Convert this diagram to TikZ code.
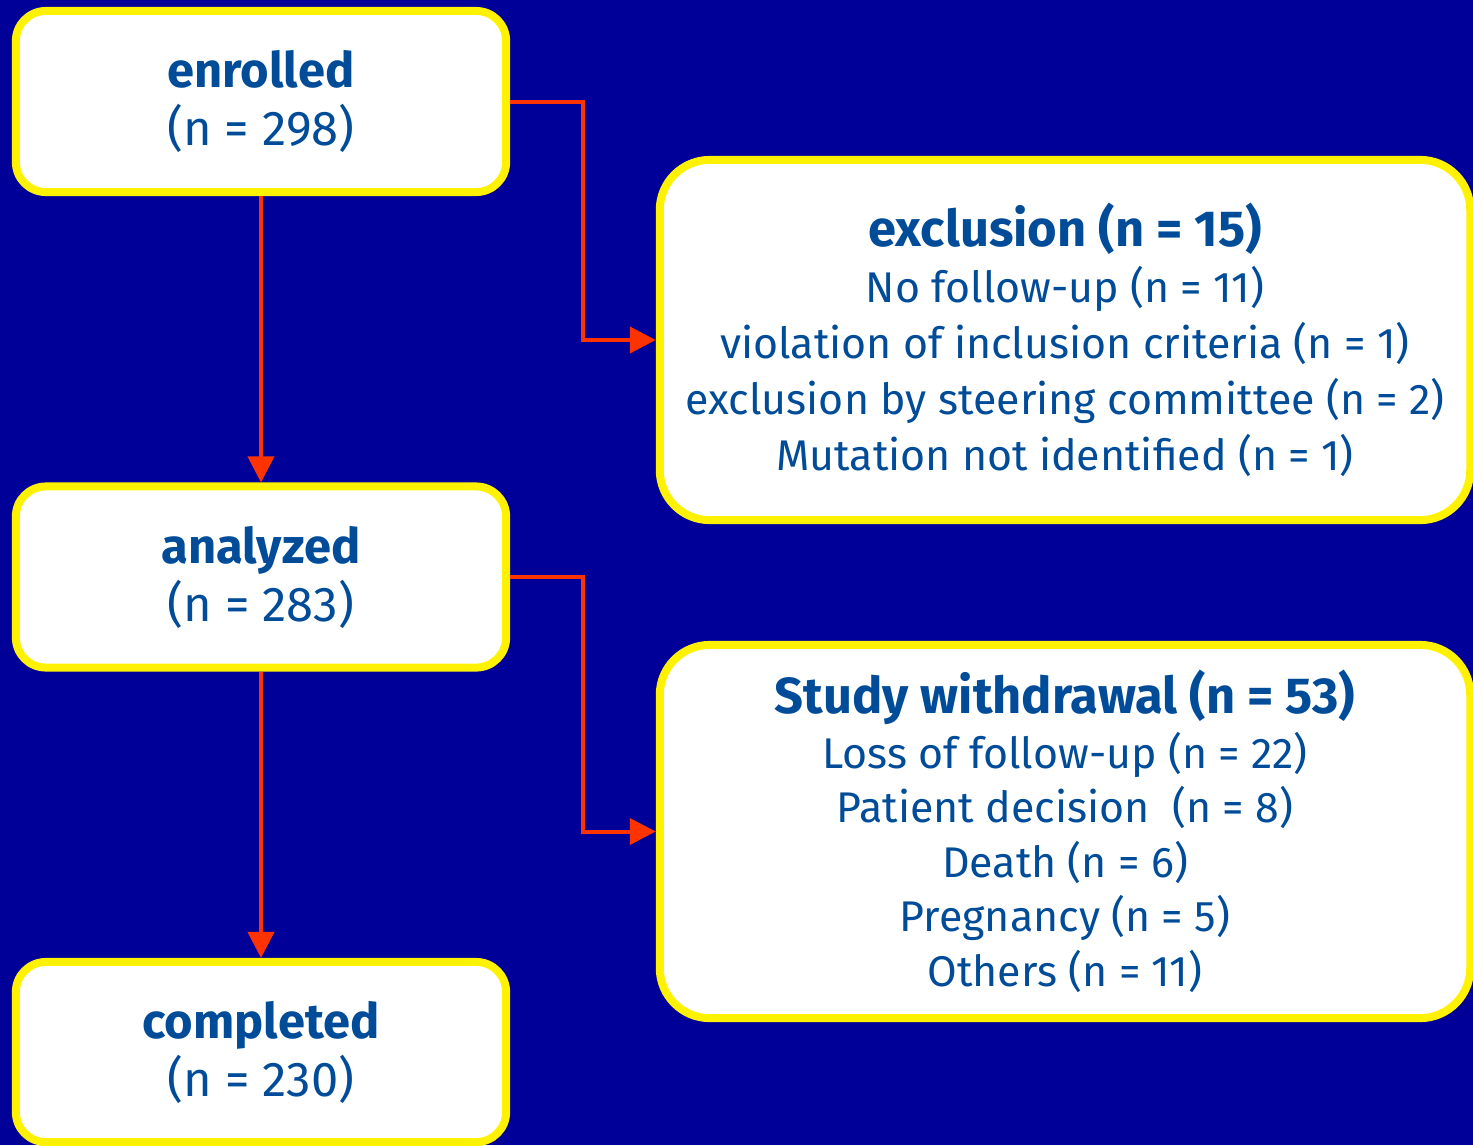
\documentclass[tikz,border=0pt]{standalone}
\usepackage{fontspec}
\setmainfont{Fira Sans}
\usetikzlibrary{arrows.meta,calc}

\definecolor{bgblue}{RGB}{0,0,153}
\definecolor{textblue}{RGB}{0,76,153}
\definecolor{arrowred}{RGB}{255,51,0}

\newcommand{\boxtitle}[1]{{\fontsize{14.4}{15.9}\selectfont\bfseries #1}}

\tikzset{
  box/.style={draw=yellow, fill=white, line width=0.08cm, rounded corners=0.3cm,
    align=center, text=textblue, font=\fontsize{13.9}{16.5}\selectfont,
    minimum width=4.9cm, minimum height=1.81cm},
  bigbox/.style={box, rounded corners=0.5cm, minimum width=8.1cm,
    font=\fontsize{12.2}{15.9}\selectfont},
  flow/.style={draw=arrowred, line width=0.04cm, -{Triangle[length=0.26cm,width=0.26cm]}}
}

\begin{document}
\begin{tikzpicture}[x=0.01cm,y=-0.01cm]

\fill[bgblue] (0,0) rectangle (1473,1145);
\useasboundingbox (0,0) rectangle (1473,1145);

% left column
\node[box] (enrolled) at (261,101.5) {\textbf{enrolled}\\(n = 298)};
\node[box] (analyzed) at (261,577) {\textbf{analyzed}\\(n = 283)};
\node[box, minimum height=1.8cm] (completed) at (261,1052) {\textbf{completed}\\(n = 230)};

% right column
\node[bigbox, minimum height=3.6cm] (exclusion) at (1065,340) {\boxtitle{exclusion (n = 15)}\\
  No follow-up (n = 11)\\
  violation of inclusion criteria (n = 1)\\
  exclusion by steering committee (n = 2)\\
  Mutation not identified (n = 1)};
\node[bigbox, minimum height=3.73cm, font=\fontsize{12.2}{15.5}\selectfont] (withdrawal) at (1065,831.5) {\boxtitle{Study withdrawal (n = 53)}\\
  Loss of follow-up (n = 22)\\
  Patient decision \ (n = 8)\\
  Death (n = 6)\\
  Pregnancy (n = 5)\\
  Others (n = 11)};

\draw[flow] (enrolled) -- (analyzed);
\draw[flow] (analyzed) -- (completed);

\draw[flow] (enrolled.east) -| ($(enrolled.east)!0.5!(exclusion.west)$) |- (exclusion.west);
\draw[flow] (analyzed.east) -| ($(analyzed.east)!0.5!(withdrawal.west)$) |- (withdrawal.west);

\end{tikzpicture}
\end{document}
